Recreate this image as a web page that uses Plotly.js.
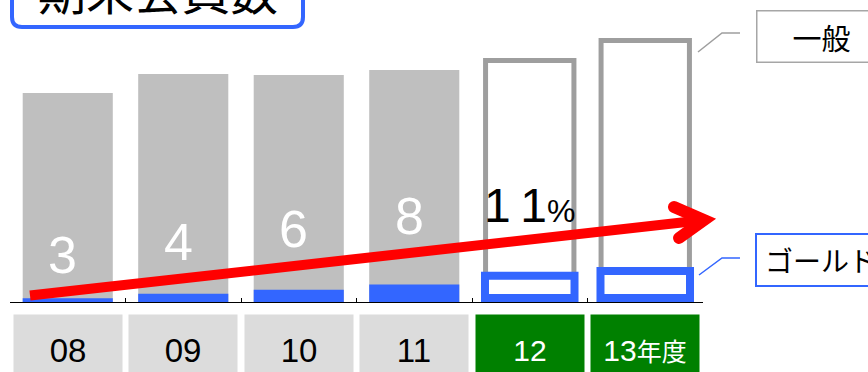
<!DOCTYPE html>
<html>
<head>
<meta charset="utf-8">
<script src="https://cdn.plot.ly/plotly-3.0.1.min.js"></script>
<style>
  html, body { margin: 0; padding: 0; background: #fff; }
  #chart { width: 868px; height: 372px; }
</style>
</head>
<body>
<div id="chart"></div>
<script>
// Fiscal years and their axis captions
const years = ['08', '09', '10', '11', '12', '13'];
const yearLabels = ['08', '09', '10', '11', '12', '13<span style="font-size:25px">年度</span>'];
// true = planned year (drawn as outlines)
const forecast = [false, false, false, false, true, true];

// Members at period end (index, FY12 plan ≈ 100)
const totalMembers = [86.4, 94.3, 93.9, 95.9, 99.9, 108.1];
// Gold members
const goldMembers = [1.5, 3.4, 5.1, 7.2, 10.9, 12.8];
// Gold share labels (%), FY08–FY12
const goldShare = [3, 4, 6, 8, 11];

// ---- layout geometry ----
const W = 868, H = 372;
const M = { l: 10, r: 165, t: 36, b: 70 };
const plotW = W - M.l - M.r, plotH = H - M.t - M.b;
const yMax = 110;
const unit = plotH / yMax;                 // px per member unit
const baseY = H - M.b;                     // pixel row of the x axis
const px = x => (x - M.l) / plotW;         // pixel -> paper x
const py = y => (baseY - y) / plotH;       // pixel -> paper y
const catCenter = i => M.l + plotW * (i + 0.5) / years.length;

const ids = want => years.map((_, i) => i).filter(i => forecast[i] === want);
const sel = (arr, list) => list.map(i => arr[i]);
const act = ids(false), plan = ids(true);

const BLUE = '#3366FF';
const GRAY = '#BFBFBF';
const OUTLINE_GRAY = '#9E9E9E';

const goldLine = 8;
const goldBase = (goldLine / 2) / unit;

const traces = [
  { type: 'bar', x: sel(years, act), y: sel(totalMembers, act), width: 0.78,
    marker: { color: GRAY, line: { width: 0 } }, hoverinfo: 'skip' },
  { type: 'bar', x: sel(years, plan), y: sel(totalMembers, plan), width: 0.765,
    marker: { color: '#FFFFFF', line: { color: OUTLINE_GRAY, width: 5 } }, hoverinfo: 'skip' },
  { type: 'bar', x: sel(years, act), y: sel(goldMembers, act), width: 0.78,
    marker: { color: BLUE, line: { width: 0 } }, hoverinfo: 'skip' },
  { type: 'bar', x: sel(years, plan), y: sel(goldMembers, plan).map(v => v - goldBase),
    base: goldBase, width: 0.775,
    marker: { color: '#FFFFFF', line: { color: BLUE, width: goldLine } }, hoverinfo: 'skip' }
];

// ---- growth arrow (pixel geometry) ----
const shaftStart = [30, 295.5], tip = [704, 220];
const armTop = [674, 207], armBottom = [679, 238];
const arrowYAt = x => shaftStart[1] + (tip[1] - shaftStart[1]) * (x - shaftStart[0]) / (tip[0] - shaftStart[0]);

const P = (x, y) => px(x).toFixed(5) + ',' + py(y).toFixed(5);
function roundRect(l, t, r, b, rad) {
  return 'M' + P(l + rad, b) + ' L' + P(r - rad, b) + ' Q' + P(r, b) + ' ' + P(r, b - rad) +
         ' L' + P(r, t) + ' L' + P(l, t) + ' L' + P(l, b - rad) + ' Q' + P(l, b) + ' ' + P(l + rad, b) ;
}

const shapes = [
  // heading frame
  { type: 'path', xref: 'paper', yref: 'paper', path: roundRect(12, -30, 303, 27, 10),
    line: { color: BLUE, width: 4 } },
  // arrow shaft
  { type: 'path', xref: 'paper', yref: 'paper', path: 'M' + P(...shaftStart) + ' L' + P(...tip),
    line: { color: '#FF0000', width: 10 } },
  // arrow head
  { type: 'path', xref: 'paper', yref: 'paper',
    path: 'M' + P(...armTop) + ' L' + P(...tip) + ' L' + P(...armBottom),
    line: { color: '#FF0000', width: 12 } },
  // leader lines to the series tags
  { type: 'path', xref: 'paper', yref: 'paper', path: 'M' + P(698, 52) + ' L' + P(722, 33) + ' L' + P(740, 33),
    line: { color: OUTLINE_GRAY, width: 1.5 } },
  { type: 'path', xref: 'paper', yref: 'paper', path: 'M' + P(699, 275) + ' L' + P(722, 258) + ' L' + P(740, 258),
    line: { color: BLUE, width: 1.5 } }
];

const annotations = [];
// heading
annotations.push({ xref: 'paper', yref: 'paper', x: px(158), y: py(-11), xanchor: 'center', yanchor: 'middle',
  text: '期末会員数', showarrow: false,
  font: { family: 'Noto Sans CJK JP', size: 48, color: '#000' } });

// year boxes under the axis
years.forEach((yr, i) => {
  annotations.push({ xref: 'paper', yref: 'paper', x: px(catCenter(i)), y: py(314), xanchor: 'center', yanchor: 'top',
    text: yearLabels[i], showarrow: false, width: 108, height: 70, valign: 'middle', borderpad: 0,
    bgcolor: forecast[i] ? '#008000' : '#DCDCDC',
    font: { family: 'Liberation Sans, Noto Sans CJK JP', size: forecast[i] ? 30 : 33,
            color: forecast[i] ? '#FFFFFF' : '#000000' } });
});

// gold share labels riding above the arrow
goldShare.forEach((v, i) => {
  const last = i === goldShare.length - 1;
  const xc = catCenter(i) + (last ? 0 : -5);
  const yc = arrowYAt(xc) - (last ? 34 : 37);
  annotations.push({ xref: 'paper', yref: 'paper', x: px(xc), y: py(yc), xanchor: 'center', yanchor: 'middle',
    showarrow: false,
    text: last ? String(v).split('').join('\u2009') + '<span style="font-size:32px">%</span>' : String(v),
    font: { family: 'Liberation Sans', size: last ? 48 : 52, color: last ? '#000000' : '#FFFFFF' } });
});

// series tags
annotations.push({ xref: 'paper', yref: 'paper', x: px(821), y: py(36), xanchor: 'center', yanchor: 'middle',
  text: '一般', showarrow: false, width: 128, height: 50, borderpad: 0, borderwidth: 1.5,
  bordercolor: '#A6A6A6', bgcolor: '#FFFFFF',
  font: { family: 'Noto Sans CJK JP', size: 29, color: '#000' } });
annotations.push({ xref: 'paper', yref: 'paper', x: px(821), y: py(260), xanchor: 'center', yanchor: 'middle',
  text: 'ゴールド', showarrow: false, width: 128, height: 50, borderpad: 0, borderwidth: 2,
  bordercolor: BLUE, bgcolor: '#FFFFFF',
  font: { family: 'Noto Sans CJK JP', size: 28, color: '#000' } });

const layout = {
  width: W, height: H, margin: M,
  paper_bgcolor: '#FFFFFF', plot_bgcolor: '#FFFFFF',
  barmode: 'overlay', showlegend: false,
  xaxis: { type: 'category', categoryorder: 'array', categoryarray: years, range: [-0.5, years.length - 0.5],
           showticklabels: false, showgrid: false, zeroline: false,
           showline: true, linecolor: '#000000', linewidth: 1.3,
           ticks: 'inside', tickson: 'boundaries', ticklen: 4, tickwidth: 1, tickcolor: '#000000',
           fixedrange: true },
  yaxis: { range: [0, yMax], visible: false, fixedrange: true },
  shapes: shapes,
  annotations: annotations,
  font: { family: 'Liberation Sans, Noto Sans CJK JP' }
};

Plotly.newPlot('chart', traces, layout, { staticPlot: true, displayModeBar: false }).then(gd => {
  // round ends on the arrow head strokes
  gd.querySelectorAll('path[data-index="2"]').forEach(p => {
    if (p.closest('.shapelayer')) { p.style.strokeLinecap = 'round'; p.style.strokeLinejoin = 'miter'; }
  });
  gd.querySelectorAll('path[data-index="0"]').forEach(p => {
    if (p.closest('.shapelayer')) { p.style.strokeLinejoin = 'round'; }
  });
});
</script>
</body>
</html>
